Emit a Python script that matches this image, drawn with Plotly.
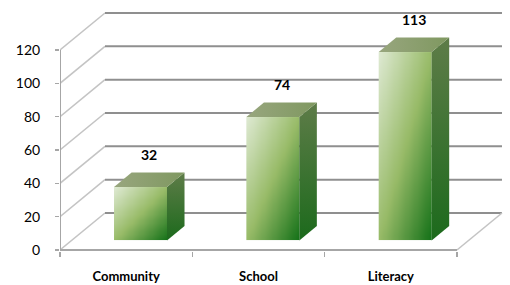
import numpy as np
import plotly.graph_objects as go

categories = ["Community", "School", "Literacy"]
values = [32, 74, 113]
y_ticks = [0, 20, 40, 60, 80, 100, 120]

# 3D projection parameters (depth vector in axis units)
DX, DY = 0.34, 22.2          # full floor depth
F1 = 0.26                    # depth where bar front face sits
BD = 0.39                    # bar depth fraction
HW = 0.20                    # bar half width
XOFF = 0.02
bdx, bdy = BD * DX, BD * DY

FONT = "Lato"
fig = go.Figure()

shapes = []
def seg(x0, y0, x1, y1, color, width):
    shapes.append(dict(type="line", xref="x", yref="y", x0=x0, y0=y0, x1=x1, y1=y1,
                       line=dict(color=color, width=width), layer="below"))

left = -0.5
right = len(categories) - 0.5
for v in y_ticks:
    seg(left, v, left + DX, v + DY, "#c4c4c4", 1.6)
    seg(left + DX, v + DY, right + DX, v + DY, "#8f8f8f", 2)
seg(right, 0, right + DX, DY, "#c4c4c4", 1.6)
seg(left, 0, right, 0, "#a6a6a6", 2)
seg(left, 0, left, y_ticks[-1], "#a6a6a6", 2)

n = 24
u = np.linspace(0, 1, n)
front_scale = [[0, "#dce8cf"], [0.5, "#98bb68"], [1, "#17731a"]]
for i, (c, v) in enumerate(zip(categories, values)):
    cx = i + F1 * DX + XOFF
    xl, xr = cx - HW, cx + HW
    yb = F1 * DY
    yt = yb + v
    # side face
    fig.add_trace(go.Scatter(
        x=[xr, xr + bdx, xr + bdx, xr, xr], y=[yb, yb + bdy, yt + bdy, yt, yb],
        mode="lines", line=dict(width=0), fill="toself",
        fillgradient=dict(type="vertical", colorscale=[[0, "#1c6a1c"], [1, "#5e7c48"]]),
        hoverinfo="skip", showlegend=False))
    # top face
    fig.add_trace(go.Scatter(
        x=[xl, xr, xr + bdx, xl + bdx, xl], y=[yt, yt, yt + bdy, yt + bdy, yt],
        mode="lines", line=dict(width=0), fill="toself",
        fillgradient=dict(type="horizontal", colorscale=[[0, "#98a67e"], [1, "#7f9860"]]),
        hoverinfo="skip", showlegend=False))
    # front face (diagonal gradient)
    z = [[(uu + (1 - vv)) / 2 for uu in u] for vv in u]
    fig.add_trace(go.Heatmap(
        x=np.linspace(xl, xr, n + 1), y=np.linspace(yb, yt, n + 1), z=z,
        zmin=0, zmax=1, colorscale=front_scale, zsmooth="best",
        showscale=False, hoverinfo="skip"))
    fig.add_annotation(x=cx + bdx / 2, y=yt + bdy, text=str(v), showarrow=False,
                       yanchor="bottom", yshift=8,
                       font=dict(family=FONT, size=14, color="#000000", weight="bold"))

fig.update_layout(
    width=510, height=285,
    margin=dict(l=60, r=0, t=0, b=34),
    paper_bgcolor="white", plot_bgcolor="white",
    shapes=shapes, showlegend=False,
    xaxis=dict(range=[left, left + 450 / 132.33], tickvals=list(range(len(categories))),
               ticktext=categories, ticks="", showgrid=False, zeroline=False, showline=False,
               ticklabelstandoff=16,
               tickfont=dict(family=FONT, size=13, color="#000000", weight="bold"),
               minor=dict(tickvals=[k - 0.5 for k in range(len(categories) + 1)],
                          ticks="outside", ticklen=5, tickwidth=1.5, tickcolor="#a6a6a6",
                          showgrid=False)),
    yaxis=dict(range=[-0.6, 150], tickvals=y_ticks, ticks="outside", ticklen=4,
               tickwidth=1.5, tickcolor="#a6a6a6", showgrid=False, zeroline=False,
               showline=False, ticklabelstandoff=12,
               tickfont=dict(family=FONT, size=14, color="#000000")),
)
fig.write_html("out.html", config={"displayModeBar": False, "staticPlot": True},
               post_script="document.body.style.margin='0';document.body.style.overflow='hidden';")
